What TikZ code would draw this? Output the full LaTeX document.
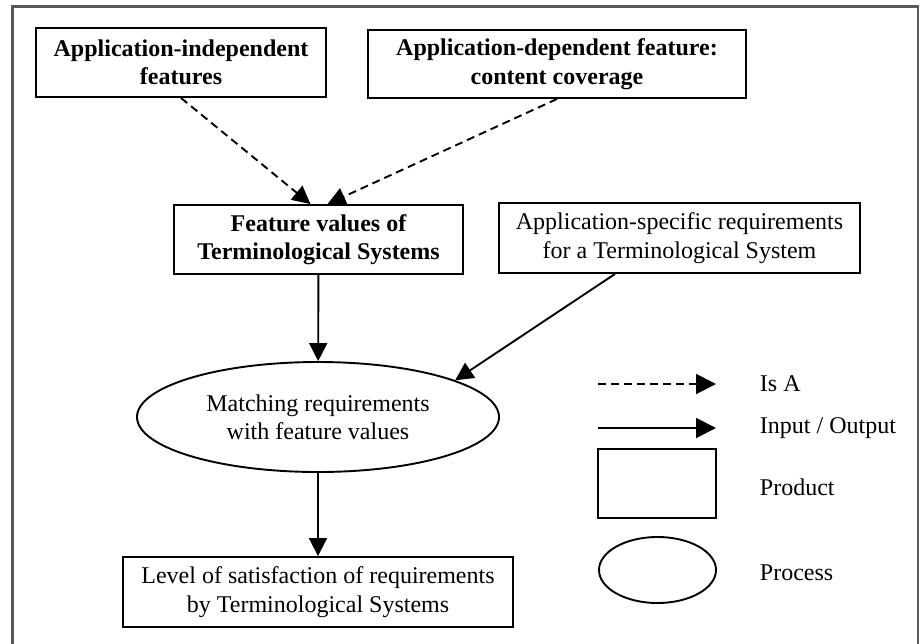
\documentclass[tikz,border=0pt]{standalone}
\usepackage{fontspec}
\setmainfont{Liberation Serif}
\usetikzlibrary{shapes.geometric,arrows.meta,positioning,calc}
\newcommand{\diagfont}{\fontsize{12}{14.2}\selectfont}

\begin{document}
\begin{tikzpicture}[x=0.5pt, y=-0.5pt, >={Triangle[length=9pt,width=9pt]}, line width=0.95pt]
    \tikzset{
        product/.style={draw, rectangle, align=center, font=\diagfont, inner sep=2pt},
        process/.style={draw, ellipse, align=center, font=\diagfont, inner sep=0pt},
        line/.style={draw, ->},
        isaline/.style={draw, ->, dash pattern=on 4pt off 2.5pt},
        legendtext/.style={anchor=west, font=\diagfont, inner sep=0pt}
    }
    \useasboundingbox (0,0) rectangle (920,643);
    \draw [gray!70!black, line width=1.1pt] (12.5,6.5) rectangle (918,670);

    \node [product, font=\diagfont\bfseries, minimum width=145pt, minimum height=34.5pt] (indep) at (181,62.5) {Application-independent\\features};
    \node [product, font=\diagfont\bfseries, minimum width=189pt, minimum height=34pt] (dep) at (557,64) {Application-dependent feature:\\content coverage};
    \node [product, font=\diagfont\bfseries, minimum width=144.5pt, minimum height=34.5pt] (values) at (318.5,239.5) {Feature values of\\Terminological Systems};
    \node [product, minimum width=180.5pt, minimum height=35pt] (reqs) at (679.5,238) {Application-specific requirements\\for a Terminological System};
    \node [process, minimum width=181pt, minimum height=55pt] (match) at (318,417) {Matching requirements\\with feature values};
    \node [product, minimum width=195pt, minimum height=35pt] (level) at (318,592) {Level of satisfaction of requirements\\by Terminological Systems};

    \path [isaline] (indep.south) -- ([xshift=-4pt]values.north);
    \path [isaline] (dep.south) -- ([xshift=4.5pt]values.north);
    \path [line] (values) -- (match);
    \path [line] ([xshift=-32.25pt]reqs.south) -- (match.15);
    \path [line] (match) -- (level);

    % legend
    \coordinate (isa start) at (598,384);
    \coordinate (isa end) at (716,384);
    \coordinate (io start) at (598,428);
    \coordinate (io end) at (716,428);
    \node [product, minimum width=59pt, minimum height=34.5pt] (prodkey) at (657,483.5) {};
    \node [process, minimum width=58.5pt, minimum height=33pt] (prockey) at (657.5,570) {};
    \path [isaline, >={Triangle[length=10pt,width=10pt]}] (isa start) -- (isa end);
    \path [line, >={Triangle[length=10pt,width=10pt]}] (io start) -- (io end);
    \node [legendtext] (isalabel) at (759,384) {Is A};
    \node [legendtext] (iolabel) at (759,428) {Input / Output};
    \node [legendtext] (prodlabel) at (759,487) {Product};
    \node [legendtext] (proclabel) at (759,573) {Process};
\end{tikzpicture}
\end{document}
